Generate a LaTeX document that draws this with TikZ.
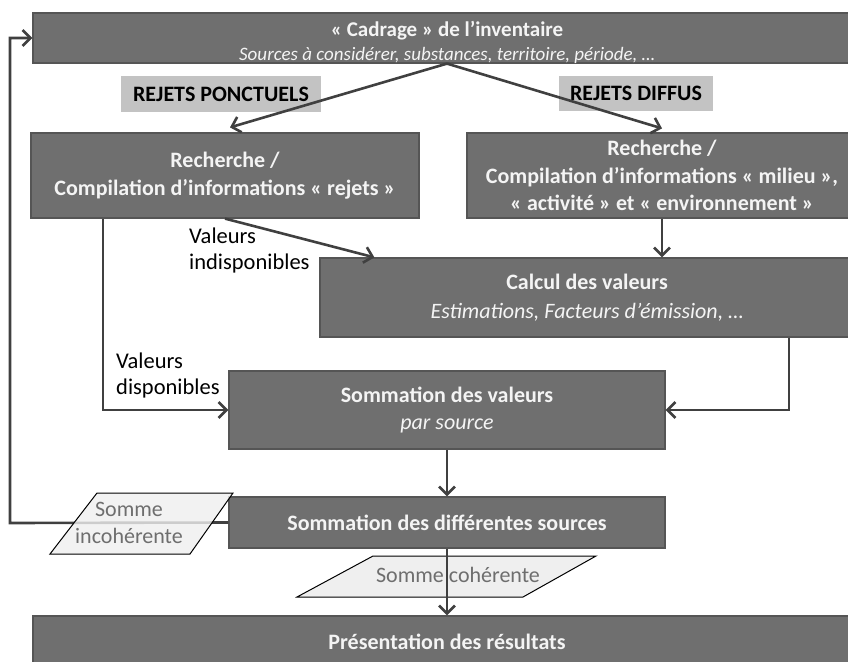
\documentclass[tikz,border=0pt]{standalone}
\usepackage{fontspec}
\setmainfont{Carlito}
\usetikzlibrary{arrows.meta}
\definecolor{boxfill}{HTML}{6F6F6F}
\definecolor{boxline}{HTML}{555555}
\definecolor{arrowc}{HTML}{404040}
\definecolor{labfill}{HTML}{C3C3C3}
\definecolor{parfill}{HTML}{EFEFEF}
\definecolor{partext}{HTML}{6E6E6E}
\definecolor{boxtext}{HTML}{F4F4F4}
\begin{document}
\begin{tikzpicture}[x=1pt,y=-1pt,
 box/.style={draw=boxline, line width=1.2pt, fill=boxfill, text=boxtext, align=center, inner sep=0pt, font=\fontsize{22}{27.5}\selectfont\bfseries},
 boxlabel/.style={text=boxtext, align=center, inner sep=0pt, font=\fontsize{21}{24}\selectfont\bfseries},
 lab/.style={fill=labfill, inner sep=0pt, font=\fontsize{22}{26}\selectfont\bfseries},
 flow/.style={draw=arrowc, line width=2.6pt, -{Straight Barb[length=8pt,width=16pt]}},
 note/.style={align=left, font=\fontsize{22.5}{26}\selectfont, inner sep=0pt, anchor=west},
 par/.style={draw=black, line width=1pt, fill=parfill},
 partxt/.style={text=partext, align=center, font=\fontsize{22}{27}\selectfont, inner sep=0pt}
]
\useasboundingbox (0,0) rectangle (848,661);
\clip (0,0) rectangle (848,661);

% boxes
\node[box, minimum width=828pt, minimum height=50pt] (cad) at (447,38) {};
\node[boxlabel] (cadtxt) at (447,42)
  {« Cadrage » de l’inventaire\\[0pt]{\mdseries\itshape\fontsize{19}{22}\selectfont Sources à considérer, substances, territoire, période, …}};
\node[box, minimum width=388pt, minimum height=85pt] (rech1) at (225,175.5)
  {Recherche /\\Compilation d’informations « rejets »};
\node[box, minimum width=390pt, minimum height=85pt] (rech2) at (662,175.5)
  {Recherche /\\Compilation d’informations « milieu »,\\« activité » et « environnement »};
\node[box, minimum width=534pt, minimum height=79pt] (calc) at (587,297.5)
  {Calcul des valeurs\\[2pt]{\mdseries\itshape Estimations, Facteurs d’émission, …}};
\node[box, minimum width=436pt, minimum height=78pt] (somm) at (447,410)
  {Sommation des valeurs\\{\mdseries\itshape par source}};
\node[box, minimum width=436pt, minimum height=51pt] (src) at (447,522.5)
  {Sommation des différentes sources};
\node[box, minimum width=828pt, minimum height=52pt] (pres) at (447,642)
  {Présentation des résultats};

% labels
\node[lab, minimum width=200pt, minimum height=36pt] (lp) at (221,94) {REJETS PONCTUELS};
\node[lab, minimum width=154pt, minimum height=35pt] (ld) at (636,93.5) {REJETS DIFFUS};

% notes
\node[note] (vi) at (189,250) {Valeurs\\indisponibles};
\node[note] (vd) at (116,375) {Valeurs\\disponibles};

% connectors
\coordinate (r1b) at ([xshift=-122pt]rech1.south);
\coordinate (cb) at ([xshift=202pt]calc.south);
\coordinate (fb) at (10,523);
\draw[flow] (cad.south) -- ([xshift=5pt,yshift=5pt]rech1.north);
\draw[flow] (cad.south) -- ([yshift=4pt]rech2.north);
\draw[flow] (rech1.south) -- ([xshift=55pt]calc.north west);
\draw[flow] (rech2.south) -- (rech2.south |- calc.north);
\draw[flow] (r1b) |- (somm.west);
\draw[flow] (cb) |- (somm.east);
\draw[flow] (somm.south) -- (src.north);
\draw[flow] (src.west) -- (fb) |- (cad.west);

% parallelograms
\path[par, fill opacity=0.8] (97,493) -- (233,493) -- (190,554) -- (50,554) -- cycle;
\node[partxt] (sinc) at (129,523) {Somme\\incohérente};
\path[par] (373,556) -- (596,556) -- (523,597) -- (297,597) -- cycle;
\node[partxt] (scoh) at (458,575) {Somme cohérente};
\draw[flow] (src.south) -- (pres.north);
\end{tikzpicture}
\end{document}
